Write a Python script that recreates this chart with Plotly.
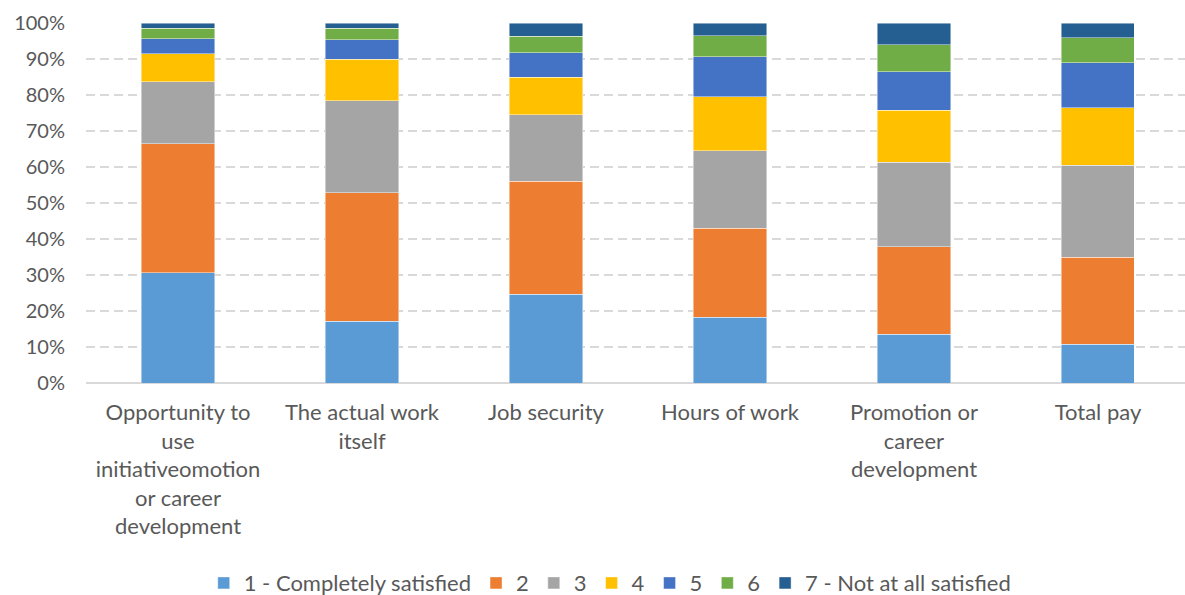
import plotly.graph_objects as go

categories = [
    "Opportunity to<br>use<br>initiativeomotion<br>or career<br>development",
    "The actual work<br>itself",
    "Job security",
    "Hours of work",
    "Promotion or<br>career<br>development",
    "Total pay",
]

series_names = [
    "1 - Completely satisfied", "2", "3", "4", "5", "6", "7 - Not at all satisfied",
]

# Share of responses (%) per satisfaction level, one list per level
level_1 = [30.6, 17.2, 24.7, 18.3, 13.5, 10.8]
level_2 = [35.8, 35.7, 31.3, 24.7, 24.3, 24.2]
level_3 = [17.3, 25.5, 18.5, 21.5, 23.5, 25.5]
level_4 = [7.8, 11.6, 10.5, 15.0, 14.4, 16.0]
level_5 = [4.1, 5.4, 6.7, 11.1, 10.8, 12.5]
level_6 = [2.9, 3.1, 4.6, 5.9, 7.4, 6.9]
level_7 = [1.5, 1.5, 3.7, 3.5, 6.1, 4.1]

colors = ["#5B9BD5", "#ED7D31", "#A5A5A5", "#FFC000", "#4472C4", "#70AD47", "#255E91"]

levels = [level_1, level_2, level_3, level_4, level_5, level_6, level_7]

fig = go.Figure()
for name, vals, col in zip(series_names, levels, colors):
    fig.add_trace(go.Bar(
        x=list(range(len(categories))),
        y=vals,
        name=name,
        marker=dict(color=col, line=dict(color="rgba(255,255,255,0.6)", width=0.75)),
    ))

font_family = "Lato, Carlito, Calibri, sans-serif"
text_color = "#595959"

fig.update_layout(
    barmode="stack",
    barnorm="percent",
    bargap=0.603,
    width=1185,
    height=595,
    margin=dict(l=86, r=0, t=23, b=212, autoexpand=False),
    paper_bgcolor="white",
    plot_bgcolor="white",
    font=dict(family=font_family, size=20, color=text_color),
    xaxis=dict(
        tickmode="array",
        tickvals=list(range(len(categories))),
        ticktext=categories,
        range=[-0.5, 5.473],
        showgrid=False,
        zeroline=False,
        showline=False,
        ticks="",
        ticklabelstandoff=14,
        tickfont=dict(size=22, color=text_color),
    ),
    yaxis=dict(
        range=[0, 100],
        tickvals=[0, 10, 20, 30, 40, 50, 60, 70, 80, 90, 100],
        ticktext=[f"{v}%" for v in range(0, 101, 10)],
        showgrid=True,
        gridcolor="#D9D9D9",
        gridwidth=2,
        griddash="9px,5px",
        zeroline=True,
        zerolinecolor="#D9D9D9",
        zerolinewidth=2,
        ticks="",
        ticklabelstandoff=20,
        tickfont=dict(size=20, color=text_color),
    ),
    legend=dict(
        orientation="h",
        yref="container",
        x=0.477,
        xanchor="center",
        y=0.02,
        yanchor="middle",
        traceorder="normal",
        font=dict(size=22, color=text_color),
        itemwidth=30,
    ),
)

fig.write_html("out.html")
